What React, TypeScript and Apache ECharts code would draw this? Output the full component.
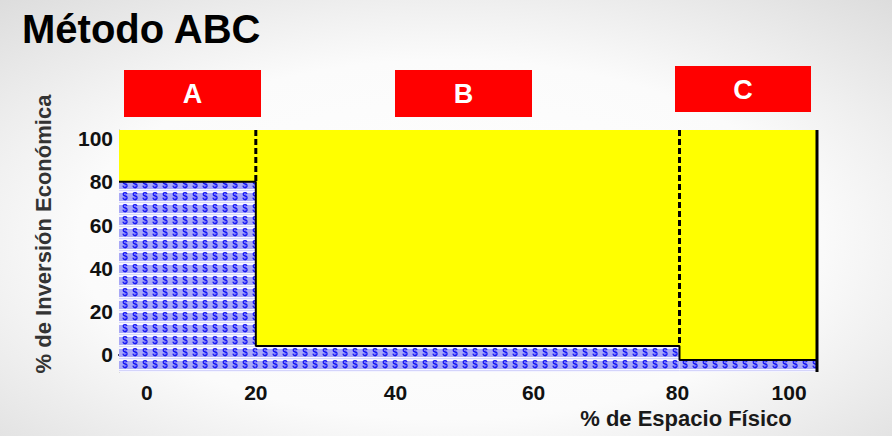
import React, { useEffect, useRef } from "react";
import * as echarts from "echarts";

// ---- data ----
const classNames = ["A", "B", "C"];
const spaceStart = [0, 19.6, 80.3]; // % de espacio físico (start of each class)
const spaceEnd = [19.6, 80.3, 100]; // % de espacio físico (end of each class)
const investmentTop = [80, 4, -2.5]; // level of the blue (investment) area in each class
const yTickValues = [0, 20, 40, 60, 80, 100];
const xTickValues = [4, 19.6, 39.6, 59.4, 80, 96];
const xTickLabels = ["0", "20", "40", "60", "80", "100"];

const Y_MIN = -8;
const Y_MAX = 104;
const FONT = "'Liberation Sans', Arial, sans-serif";

function makePattern() {
  const c = document.createElement("canvas");
  c.width = 10;
  c.height = 12;
  const ctx = c.getContext("2d")!;
  ctx.fillStyle = "#f4f4ff";
  ctx.fillRect(0, 0, 10, 12);
  ctx.fillStyle = "#a9a9f6";
  ctx.fillRect(0, 1, 10, 8);
  ctx.fillStyle = "#d4d4fb";
  ctx.fillRect(0, 10, 10, 1);
  ctx.fillStyle = "#1414f5";
  ctx.font = "bold 10px 'Liberation Sans', Arial, sans-serif";
  ctx.textAlign = "center";
  ctx.textBaseline = "middle";
  ctx.fillText("$", 5, 5.5);
  return { image: c.toDataURL(), repeat: "repeat", imageWidth: 10, imageHeight: 12 };
}

export default function App() {
  const ref = useRef<HTMLDivElement>(null);
  useEffect(() => {
    document.body.style.margin = "0";
    const chart = echarts.init(ref.current!, null, { renderer: "svg" });
    const pattern = makePattern();

    const regionData = classNames.map((_, i) => [spaceStart[i], spaceEnd[i], investmentTop[i]]);

    // stepped boundary between investment (blue) and remaining (yellow)
    const stepLine: number[][] = [];
    classNames.forEach((_, i) => {
      stepLine.push([spaceStart[i], investmentTop[i]]);
      stepLine.push([spaceEnd[i], investmentTop[i]]);
    });

    const dashedSeries = classNames.slice(1).map((_, k) => {
      const i = k + 1;
      return {
        type: "line",
        data: [
          [spaceStart[i], Y_MAX],
          [spaceStart[i], investmentTop[i - 1]],
        ],
        symbol: "none",
        silent: true,
        lineStyle: { color: "#000", width: 3, type: [6, 3] },
        z: 5,
      };
    });

    chart.setOption({
      animation: false,
      backgroundColor: {
        type: "radial",
        x: 0.5,
        y: 0.55,
        r: 0.75,
        colorStops: [
          { offset: 0, color: "#ffffff" },
          { offset: 0.55, color: "#fbfbfb" },
          { offset: 1, color: "#dcdcdc" },
        ],
      },
      title: {
        text: "Método ABC",
        left: 22,
        top: 9,
        padding: 0,
        textStyle: { fontSize: 40, fontWeight: "bold", color: "#000", fontFamily: FONT },
      },
      grid: { left: 119, right: 75, top: 130, bottom: 64, outerBoundsMode: "none" },
      xAxis: {
        type: "value",
        min: 0,
        max: 100,
        name: "% de Espacio Físico",
        nameLocation: "middle",
        nameGap: 31,
        nameTextStyle: {
          fontSize: 22,
          fontWeight: "bold",
          color: "#1a1a1a",
          fontFamily: FONT,
          padding: [0, 0, 0, 436],
        },
        axisLine: { show: true, lineStyle: { color: "#14143c", width: 2 } },
        axisTick: { show: false },
        splitLine: { show: false },
        axisLabel: {
          customValues: xTickValues,
          formatter: (v: number) => {
            const idx = xTickValues.findIndex((t) => Math.abs(t - v) < 1e-6);
            return idx >= 0 ? xTickLabels[idx] : "";
          },
          margin: 10,
          fontSize: 21,
          fontWeight: "bold",
          color: "#111",
          fontFamily: FONT,
        },
      },
      yAxis: {
        type: "value",
        min: Y_MIN,
        max: Y_MAX,
        interval: 4,
        name: "% de Inversión Económica",
        nameLocation: "middle",
        nameGap: 65,
        nameTextStyle: {
          fontSize: 22,
          fontWeight: "bold",
          color: "#333",
          fontFamily: FONT,
          padding: [0, 0, 0, 34],
        },
        axisLine: { show: true, lineStyle: { color: "#aaaaaa", width: 1 } },
        axisTick: { show: false },
        splitLine: { show: false },
        axisLabel: {
          formatter: (v: number) => (yTickValues.indexOf(v) >= 0 ? String(v) : ""),
          margin: 6,
          fontSize: 21,
          fontWeight: "bold",
          color: "#111",
          fontFamily: FONT,
        },
      },
      series: [
        {
          type: "custom",
          data: regionData,
          encode: { x: [0, 1], y: 2 },
          silent: true,
          renderItem: (params: any, api: any) => {
            const x0 = api.value(0);
            const x1 = api.value(1);
            const top = api.value(2);
            const pTL = api.coord([x0, Y_MAX]);
            const pBR = api.coord([x1, Y_MIN]);
            const pMid = api.coord([x0, top]);
            return {
              type: "group",
              children: [
                {
                  type: "rect",
                  shape: { x: pTL[0], y: pTL[1], width: pBR[0] - pTL[0], height: pMid[1] - pTL[1] },
                  style: { fill: "#ffff00" },
                },
                {
                  type: "rect",
                  shape: { x: pTL[0], y: pMid[1], width: pBR[0] - pTL[0], height: pBR[1] - pMid[1] },
                  style: { fill: pattern },
                },
              ],
            };
          },
          z: 1,
        },
        {
          type: "line",
          data: stepLine,
          symbol: "none",
          silent: true,
          lineStyle: { color: "#000", width: 2 },
          z: 4,
        },
        ...dashedSeries,
        {
          type: "line",
          data: [
            [spaceEnd[spaceEnd.length - 1], Y_MIN],
            [spaceEnd[spaceEnd.length - 1], Y_MAX],
          ],
          symbol: "none",
          silent: true,
          lineStyle: { color: "#000", width: 3 },
          z: 5,
        },
      ],
      graphic: [
        { type: "rect", shape: { x: 124, y: 70, width: 137, height: 47 }, style: { fill: "#ff0000" } },
        { type: "text", x: 192.5, y: 94, style: { text: classNames[0], fill: "#fff", font: `bold 27px ${FONT}`, align: "center", verticalAlign: "middle" } },
        { type: "rect", shape: { x: 395, y: 70, width: 137, height: 47 }, style: { fill: "#ff0000" } },
        { type: "text", x: 463.5, y: 94, style: { text: classNames[1], fill: "#fff", font: `bold 27px ${FONT}`, align: "center", verticalAlign: "middle" } },
        { type: "rect", shape: { x: 675, y: 66, width: 136, height: 46 }, style: { fill: "#ff0000" } },
        { type: "text", x: 743, y: 89.5, style: { text: classNames[2], fill: "#fff", font: `bold 27px ${FONT}`, align: "center", verticalAlign: "middle" } },
      ],
    });
    return () => chart.dispose();
  }, []);
  return <div ref={ref} style={{ width: 892, height: 436 }} />;
}
